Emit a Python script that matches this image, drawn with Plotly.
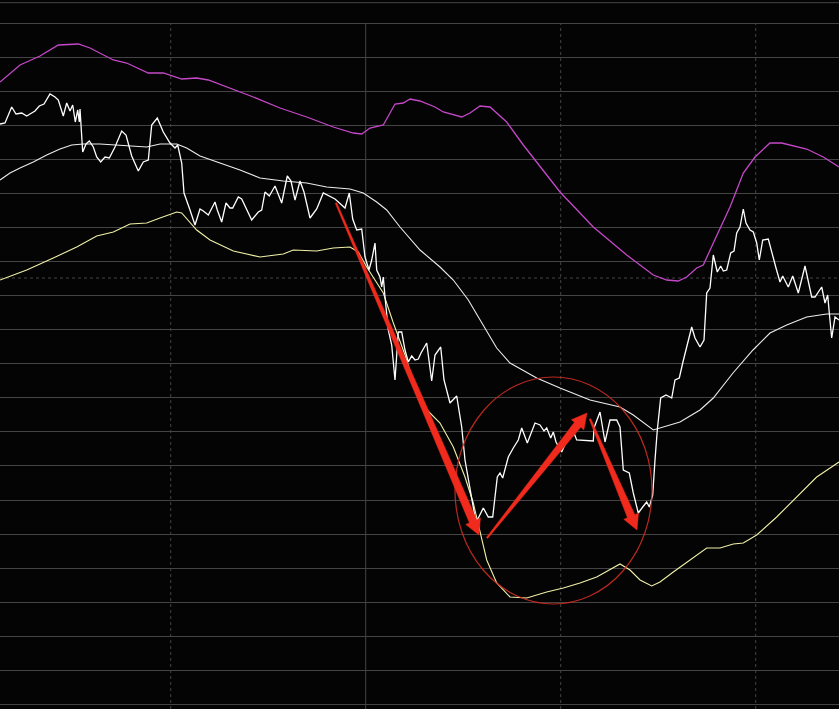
import math
import plotly.graph_objects as go

# ---- data (time index, value) ----
price_x = [0, 5, 11.7, 16, 21.7, 26.7, 31.7, 35, 39.3, 44, 50, 55, 58.3, 63.3, 66.7, 70, 72.7, 75.3, 77.7, 79.3,
           80, 82.7, 86, 89.3, 93.3, 96.7, 100.7, 105, 109.3, 115, 121.7, 126, 131.7, 138.3, 143.3, 148.3, 151.7,
           157.3, 163.3, 170, 175, 177.7, 181.7, 184, 190, 195, 200, 203.3, 208.3, 215, 217.3, 221.7, 226, 230,
           232.7, 238.3, 241.7, 251.7, 258.3, 261.7, 265, 269.3, 275, 281.7, 287.3, 291, 295, 300, 304, 310, 316.7,
           323.3, 335, 345, 349.3, 352.7, 356.7, 361.7, 365, 369, 371.7, 375, 376.7, 380, 381.7, 383.3, 385, 388.3,
           391.7, 395, 398.3, 401.7, 405, 408.3, 411.7, 415, 418.3, 421, 426.7, 431.7, 435, 440.7, 444, 450, 456.7,
           461.7, 465, 470, 475, 477.3, 483.3, 488.3, 492.7, 497.3, 500, 502.7, 508.3, 513.3, 518.3, 521.7, 527.3,
           535, 540, 544, 546.7, 550.7, 553.3, 556, 561.7, 566, 571.7, 576.7, 593.3, 594, 600, 605, 610, 616.7, 620,
           623.3, 629.3, 633.3, 638.3, 642.7, 646.7, 649.3, 652.7, 655, 657.3, 660.7, 666, 670, 671.7, 675, 679.3,
           682.7, 691.7, 695, 700, 704, 706.7, 710, 713.3, 717.3, 720.7, 723.3, 726.7, 730.7, 734, 736.7, 740, 743.3,
           746, 750, 753.3, 756.7, 759.3, 762.7, 768.3, 776, 780, 782.7, 788.3, 792.7, 798.3, 805, 811.7, 815, 821.7,
           825, 827.7, 829.3, 831.7, 835, 839]
price_v = [585, 586, 602, 595, 596, 593, 596, 598, 603, 605, 615, 612, 609, 593, 606, 598, 604, 587, 599, 587,
           600, 557, 565, 568, 562, 552, 547, 552, 551, 562, 578, 574, 553, 538, 547, 549, 584,
           591, 577, 566, 561, 564, 546, 516, 499, 484, 500, 498, 494, 507, 499, 487, 506, 501,
           501, 512, 510, 489, 497, 499, 517, 513, 523, 506, 533, 528, 509, 528, 517, 491, 500,
           516, 510, 501, 516, 490, 479, 480, 452, 439, 449, 466, 439, 432, 422, 432, 412, 379,
           364, 329, 377, 377, 359, 347, 353, 349, 350, 356, 366, 328, 354, 362, 329, 306, 313,
           282, 249, 219, 192, 189, 201, 192, 192, 232, 236, 231, 252, 261, 269, 281, 266,
           286, 284, 278, 281, 271, 277, 267, 257, 267, 282, 269, 268, 281, 297, 267, 289, 289, 282,
           239, 236, 216, 196, 202, 207, 202, 214, 249, 279, 311, 314, 312, 311, 329, 331,
           346, 382, 371, 362, 369, 416, 421, 454, 437, 443, 438, 439, 456, 458, 476, 482, 500,
           486, 479, 477, 466, 449, 469, 470, 441, 427, 433, 422, 433, 416, 443, 412, 412, 422,
           406, 414, 396, 371, 392, 389]

mid_x = [0, 10, 20, 33.3, 46.7, 60, 71.7, 83.3, 100, 116.7, 133.3, 146.7, 160, 176.7, 186.7, 200, 220, 240,
         260, 283.3, 306.7, 326.7, 350, 363.3, 376.7, 386.7, 400, 413.3, 420, 440, 453.3, 468.3, 480, 496.7,
         510, 536.7, 560, 590, 620, 633.3, 653.3, 660, 680, 700, 713.3, 733, 753, 770, 786.7, 806.7, 826.7, 839]
mid_v = [529, 536, 541, 547, 554, 560, 564, 565, 565, 564, 563, 562, 565, 565, 561, 553, 546, 539,
         531, 528, 526, 522, 520, 516, 507, 499, 482, 466, 459, 442, 429, 409, 389, 361,
         346, 331, 321, 309, 302, 294, 279, 281, 287, 299, 311, 336, 359, 376, 384, 392, 395, 395]

upper_x = [0, 20, 40, 58.3, 78.3, 90, 113.3, 126.7, 148.3, 163.3, 181.7, 196.7, 208.3, 226.7, 253.3, 280,
           306.7, 333.3, 353.3, 361.7, 370, 383.3, 395, 403.3, 410, 420, 435, 443.3, 461.7, 470, 480, 490,
           506.7, 523.3, 560, 593.3, 626.7, 653.3, 666.7, 678.3, 686.7, 696.7, 703.3, 713.3, 730, 743.3,
           755, 770, 781.7, 806.7, 823.3, 839]
upper_v = [627, 644, 653, 664, 665, 661, 649, 646, 636, 636, 630, 631, 629, 622, 612, 601,
           592, 582, 576, 575, 581, 584, 605, 606, 610, 608, 602, 597, 592, 596, 603, 602,
           587, 564, 517, 482, 454, 434, 429, 428, 432, 441, 444, 466, 502, 536,
           552, 566, 566, 560, 552, 542]

lower_x = [0, 26.7, 53.3, 76.7, 96.7, 113.3, 130, 146.7, 160, 176.7, 181.7, 196.7, 210, 233.3, 260, 283.3,
           293.3, 316.7, 333.3, 350, 358.3, 366.7, 383.3, 393, 405, 420, 430, 440, 453.3, 465, 473.3, 480,
           486.7, 496.7, 510, 526.7, 546.7, 563.3, 580, 596.7, 610, 620, 630, 640, 651.7, 660, 673.3, 686.7,
           706.7, 720, 733.3, 743.3, 756.7, 776.7, 796.7, 816.7, 839]
lower_v = [429, 439, 451, 462, 473, 477, 485, 486, 491, 497, 496, 479, 469, 458, 452, 455,
           459, 458, 461, 462, 457, 442, 416, 387, 354, 306, 296, 286, 262, 232, 206, 176,
           149, 126, 112, 111, 117, 121, 126, 132, 139, 145, 139, 129, 123, 127, 137, 147,
           161, 161, 165, 166, 174, 192, 212, 232, 247]

# annotation marks (hand-drawn arrows and circle), in the same units
arrow_tail_x = [336, 487, 590]
arrow_tail_v = [506, 171, 290]
arrow_tip_x = [479, 587, 637]
arrow_tip_v = [174, 296, 179]
circle_x = [455, 652]
circle_v = [105, 332]

# grid
grid_top = 685.7
grid_step = 34.05
vert_solid = [365.7]
vert_dotted = [170.7, 560.7, 755.7]
extra_solid_h = [706.3]
extra_dotted_h = [431]

X_RANGE = [0, 839]
Y_RANGE = [0, 709]

fig = go.Figure()
fig.add_trace(go.Scatter(x=upper_x, y=upper_v, mode="lines",
                         line=dict(color="#c548c8", width=1.3), hoverinfo="skip"))
fig.add_trace(go.Scatter(x=lower_x, y=lower_v, mode="lines",
                         line=dict(color="#f0f0a8", width=1.1), hoverinfo="skip"))
fig.add_trace(go.Scatter(x=mid_x, y=mid_v, mode="lines",
                         line=dict(color="#ececec", width=1.1), hoverinfo="skip"))
fig.add_trace(go.Scatter(x=price_x, y=price_v, mode="lines",
                         line=dict(color="#ffffff", width=1.3), hoverinfo="skip"))

shapes = []
grid_col = "#444444"
for xv in vert_solid:
    shapes.append(dict(type="line", xref="x", yref="y", x0=xv, x1=xv, y0=Y_RANGE[0], y1=grid_top,
                       line=dict(color=grid_col, width=1), layer="below"))
for xv in vert_dotted:
    shapes.append(dict(type="line", xref="x", yref="y", x0=xv, x1=xv, y0=Y_RANGE[0], y1=grid_top,
                       line=dict(color=grid_col, width=1, dash="dot"), layer="below"))
for yv in extra_solid_h:
    shapes.append(dict(type="line", xref="x", yref="y", x0=X_RANGE[0], x1=X_RANGE[1], y0=yv, y1=yv,
                       line=dict(color=grid_col, width=1), layer="below"))
for yv in extra_dotted_h:
    shapes.append(dict(type="line", xref="x", yref="y", x0=X_RANGE[0], x1=X_RANGE[1], y0=yv, y1=yv,
                       line=dict(color=grid_col, width=1, dash="dot"), layer="below"))

# circle annotation
shapes.append(dict(type="circle", xref="x", yref="y", x0=circle_x[0], x1=circle_x[1],
                   y0=circle_v[0], y1=circle_v[1], line=dict(color="rgba(205,45,35,0.9)", width=1.2)))


def arrow_path(x0, y0, x1, y1, w_tail=0.8, w_neck=4.0, w_head=8.0, head_len=15.0):
    dx, dy = x1 - x0, y1 - y0
    L = math.hypot(dx, dy)
    ux, uy = dx / L, dy / L
    nx, ny = -uy, ux
    kx, ky = x1 - ux * head_len, y1 - uy * head_len
    pts = [
        (x0 + nx * w_tail, y0 + ny * w_tail),
        (kx + nx * w_neck, ky + ny * w_neck),
        (kx + nx * w_head, ky + ny * w_head),
        (x1, y1),
        (kx - nx * w_head, ky - ny * w_head),
        (kx - nx * w_neck, ky - ny * w_neck),
        (x0 - nx * w_tail, y0 - ny * w_tail),
    ]
    return "M " + " L ".join(f"{px:.2f},{py:.2f}" for px, py in pts) + " Z"


for i in range(len(arrow_tail_x)):
    shapes.append(dict(type="path", xref="x", yref="y",
                       path=arrow_path(arrow_tail_x[i], arrow_tail_v[i], arrow_tip_x[i], arrow_tip_v[i]),
                       fillcolor="#f02a1c", line=dict(color="#f02a1c", width=0.5)))

fig.update_layout(
    width=839, height=709,
    margin=dict(l=0, r=0, t=0, b=0),
    paper_bgcolor="#040404", plot_bgcolor="#040404",
    showlegend=False,
    shapes=shapes,
    xaxis=dict(range=X_RANGE, showgrid=False, zeroline=False, showticklabels=False,
               showline=False, ticks="", fixedrange=True),
    yaxis=dict(range=Y_RANGE, showgrid=True, gridcolor=grid_col, gridwidth=1,
               tick0=grid_top, dtick=grid_step, zeroline=False, showticklabels=False,
               showline=False, ticks="", fixedrange=True),
)

fig.write_html(
    "out.html",
    config={"displayModeBar": False},
    post_script="document.body.style.margin='0';document.body.style.background='#040404';"
                "document.body.style.overflow='hidden';",
)
